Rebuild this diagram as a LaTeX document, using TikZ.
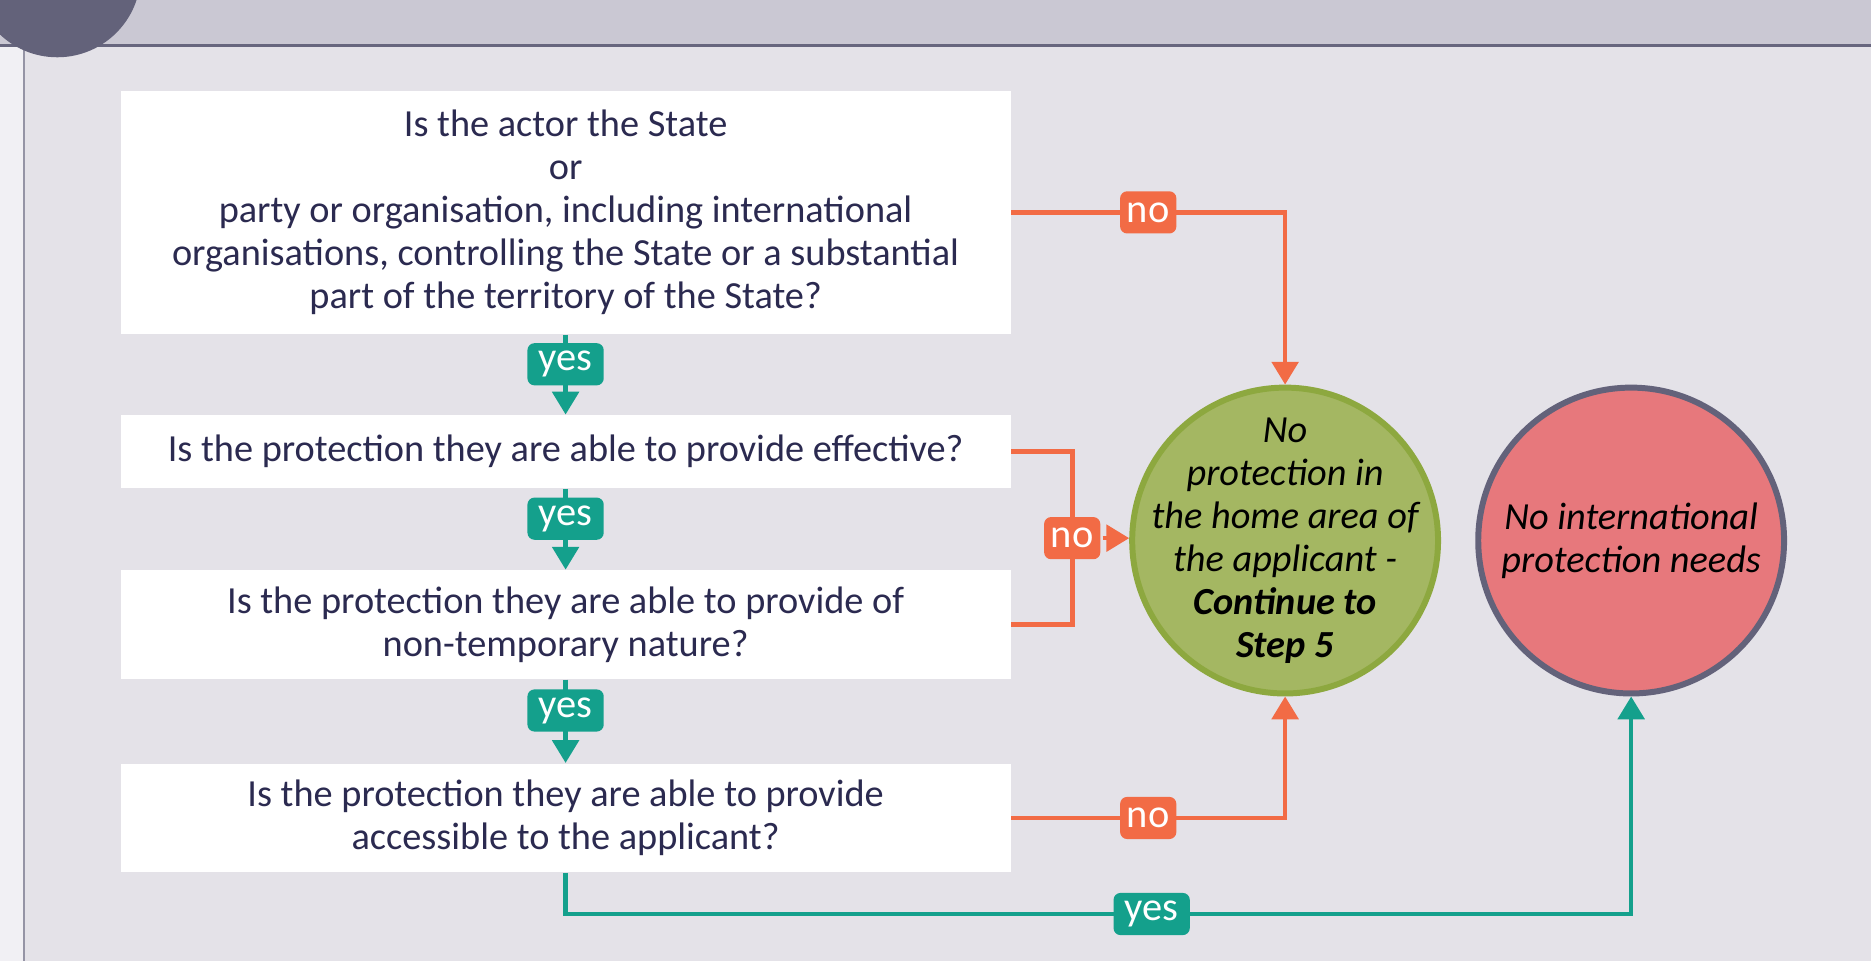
\documentclass[tikz,border=0pt]{standalone}
\usepackage{fontspec}
\setmainfont{Carlito}
\usetikzlibrary{arrows.meta}
\definecolor{panelgrey}{HTML}{E4E2E8}
\definecolor{margingrey}{HTML}{F1F0F4}
\definecolor{headgrey}{HTML}{CAC8D3}
\definecolor{rulegrey}{HTML}{67667E}
\definecolor{darkslate}{HTML}{63627A}
\definecolor{navytext}{HTML}{2B2A50}
\definecolor{noorange}{HTML}{F26B45}
\definecolor{yesteal}{HTML}{14A08C}
\definecolor{stepgreen}{HTML}{A4B762}
\definecolor{stepgreenline}{HTML}{8DA83F}
\definecolor{needred}{HTML}{E7787C}
\tikzset{
  question/.style={fill=white, minimum width=253.2pt, align=center, text=navytext,
    font=\fontsize{10.9}{12.2}\selectfont, inner sep=0pt},
  outcome/.style={circle, line width=1.7pt, minimum size=87pt, align=center,
    font=\fontsize{10.9}{12.2}\selectfont\itshape, inner sep=-10pt},
  yeslabel/.style={fill=yesteal, text=white, rounded corners=2pt, minimum height=12pt,
    minimum width=21.7pt, inner sep=0pt, font=\fontsize{11.5}{12}\selectfont},
  nolabel/.style={fill=noorange, text=white, rounded corners=2pt, minimum height=12pt,
    minimum width=16pt, inner sep=0pt, font=\fontsize{11.5}{12}\selectfont},
  yesarrow/.style={draw=yesteal, line width=1.3pt, -{Triangle[width=7.5pt,length=6.5pt]}},
  noline/.style={draw=noorange, line width=1.3pt},
  noarrow/.style={noline, -{Triangle[width=7.5pt,length=6.5pt]}},
}
\begin{document}
\begin{tikzpicture}[x=0.1193mm, y=-0.1193mm]
  \useasboundingbox (0,0) rectangle (1568,805);
  % page background and header band
  \fill[margingrey] (0,0) rectangle (1568,805);
  \fill[panelgrey] (20,38) rectangle (1568,805);
  \fill[headgrey] (0,0) rectangle (1568,38);
  \draw[rulegrey, line width=0.7pt] (0,38) -- (1568,38);
  \draw[rulegrey!70, line width=0.5pt] (20,38) -- (20,805);
  \fill[darkslate] (48,-22) circle[radius=70];

  % questions
  \node[question, minimum height=69.2pt] (q1) at (474,178)
    {Is the actor the State\\ or\\ party or organisation, including international\\
     organisations, controlling the State or a substantial\\ part of the territory of the State?};
  \node[question, minimum height=20.7pt] (q2) at (474,378.5)
    {Is the protection they are able to provide effective?};
  \node[question, minimum height=30.9pt] (q3) at (474,523.5)
    {Is the protection they are able to provide of\\ non-temporary nature?};
  \node[question, minimum height=30.9pt] (q4) at (474,685.5)
    {Is the protection they are able to provide\\ accessible to the applicant?};

  % outcomes
  \node[outcome, fill=stepgreen, draw=stepgreenline] (ng) at (1077,453)
    {No\\ protection in\\ the home area of\\ the applicant -\\ \textbf{Continue to}\\ \textbf{Step 5}};
  \node[outcome, fill=needred, draw=darkslate] (nr) at (1367,453)
    {No international\\ protection needs};

  % yes branches
  \draw[yesarrow] (q1) -- node[yeslabel, pos=.37] (y1) {yes} (q2);
  \draw[yesarrow] (q2) -- node[yeslabel, pos=.37] (y2) {yes} (q3);
  \draw[yesarrow] (q3) -- node[yeslabel, pos=.37] (y3) {yes} (q4);
  \coordinate (yturn) at (474,766);
  \draw[yesarrow] (q4.south) -- (yturn) -- node[yeslabel, pos=.55] (y4) {yes} (yturn -| nr.south) -- (nr.south);

  % no branches
  \draw[noarrow] (q1.east) -- node[nolabel] (n1) {no} (q1.east -| ng.north) -- (ng.north);
  \draw[noline] (q2.east) -- ++(51,0) -- node[nolabel] (n2) {no} ++(0,145) -- (q3.east);
  \draw[noarrow] (n2.east) -- (n2.east -| ng.west);
  \draw[noarrow] (q4.east) -- node[nolabel] (n3) {no} (q4.east -| ng.south) -- (ng.south);
\end{tikzpicture}
\end{document}
